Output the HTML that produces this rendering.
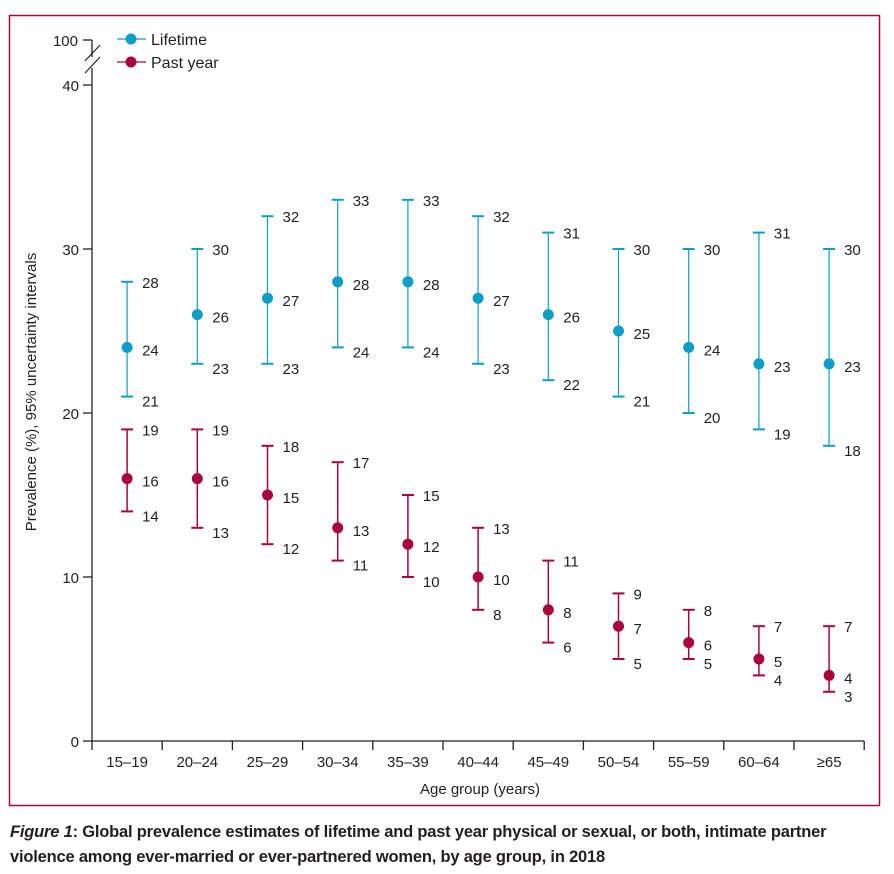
<!DOCTYPE html>
<html><head><meta charset="utf-8"><style>
body{margin:0;background:#fff;width:894px;height:874px;overflow:hidden;font-family:"Liberation Sans",sans-serif}
svg text{font-family:"Liberation Sans",sans-serif;fill:#231f20}
.cap{position:absolute;left:10px;top:820px;font-size:16.5px;line-height:25px;color:#231f20;font-weight:bold;letter-spacing:-0.2px}
</style></head><body>
<svg width="894" height="874" style="position:absolute;left:0;top:0">
<rect x="9.5" y="15.5" width="870" height="790" fill="none" stroke="#a8063b" stroke-width="1.5"/>
<g id="axes"></g><g id="marks"></g>
<text x="480" y="794" font-size="15" text-anchor="middle">Age group (years)</text>
<text transform="translate(36,392) rotate(-90)" font-size="15" text-anchor="middle">Prevalence (%), 95% uncertainty intervals</text>
<g>
<line x1="117" y1="39" x2="146" y2="39" stroke="#0e9ec4" stroke-width="1.3"/><circle cx="131" cy="39" r="5.5" fill="#0e9ec4"/>
<text x="151" y="45" font-size="16">Lifetime</text>
<line x1="117" y1="62" x2="146" y2="62" stroke="#a8063b" stroke-width="1.3"/><circle cx="131" cy="62" r="5.5" fill="#a8063b"/>
<text x="151" y="68" font-size="16">Past year</text>
</g>
</svg>
<div class="cap"><i>Figure 1</i>: Global prevalence estimates of lifetime and past year physical or sexual, or both, intimate partner violence among ever-married or ever-partnered women, by age group, in 2018</div>
<script>
const categories=["15–19","20–24","25–29","30–34","35–39","40–44","45–49","50–54","55–59","60–64","≥65"];
const lifeMid=[24,26,27,28,28,27,26,25,24,23,23];
const lifeLo=[21,23,23,24,24,23,22,21,20,19,18];
const lifeHi=[28,30,32,33,33,32,31,30,30,31,30];
const pastMid=[16,16,15,13,12,10,8,7,6,5,4];
const pastLo=[14,13,12,11,10,8,6,5,5,4,3];
const pastHi=[19,19,18,17,15,13,11,9,8,7,7];
const yTicks=[0,10,20,30,40];
const NS="http://www.w3.org/2000/svg";
const y=v=>741-v*16.4;
const xL=92,step=70.2;
const xc=i=>xL+step*(i+0.5);
function mk(tag,attrs,parent){const e=document.createElementNS(NS,tag);for(const k in attrs)e.setAttribute(k,attrs[k]);parent.appendChild(e);return e;}
const ax=document.getElementById('axes'),mg=document.getElementById('marks');
const c='#231f20';
let l=mk('line',{x1:xL,y1:741,x2:xL+step*11,y2:741,stroke:c,'stroke-width':1.3},ax);


l=mk('line',{x1:xL,y1:741,x2:xL,y2:68,stroke:c,'stroke-width':1.3},ax);


mk('line',{x1:xL,y1:57,x2:xL,y2:40,stroke:c,'stroke-width':1.3},ax);
mk('line',{x1:83,y1:40,x2:xL,y2:40,stroke:c,'stroke-width':1.3},ax);
mk('line',{x1:85,y1:61,x2:100,y2:45,stroke:c,'stroke-width':1.2},ax);
mk('line',{x1:85,y1:73,x2:100,y2:57,stroke:c,'stroke-width':1.2},ax);
let t=mk('text',{x:78,y:46,'font-size':15,'text-anchor':'end'},ax);t.textContent='100';
for(const v of yTicks){
 mk('line',{x1:83,y1:y(v),x2:xL,y2:y(v),stroke:c,'stroke-width':1.3},ax);
 t=mk('text',{x:79,y:y(v)+6,'font-size':15,'text-anchor':'end'},ax);t.textContent=v;
 
 
}
for(let i=0;i<=11;i++)mk('line',{x1:xL+step*i,y1:741,x2:xL+step*i,y2:750,stroke:c,'stroke-width':1.3},ax);
categories.forEach((cat,i)=>{t=mk('text',{x:xc(i),y:767,'font-size':15,'text-anchor':'middle'},ax);t.textContent=cat;
 
 });
function series(mid,lo,hi,col,w,name){
 mid.forEach((m,i)=>{
  const x=xc(i);
  const g=mk('g',{},mg);
  
  
  mk('line',{x1:x,y1:y(lo[i]),x2:x,y2:y(hi[i]),stroke:col,'stroke-width':w},g);
  mk('line',{x1:x-6,y1:y(lo[i]),x2:x+6,y2:y(lo[i]),stroke:col,'stroke-width':2},g);
  mk('line',{x1:x-6,y1:y(hi[i]),x2:x+6,y2:y(hi[i]),stroke:col,'stroke-width':2},g);
  mk('circle',{cx:x,cy:y(m),r:5.5,fill:col},g);
  [[hi[i],1],[m,3],[lo[i],5]].forEach(([v,dy])=>{const tt=mk('text',{x:x+15,y:y(v)+dy+5,'font-size':15},g);tt.textContent=v;});
 });
}
series(lifeMid,lifeLo,lifeHi,'#0e9ec4',1.2,'lifetime');
series(pastMid,pastLo,pastHi,'#a8063b',1.5,'past-year');
</script>
</body></html>
